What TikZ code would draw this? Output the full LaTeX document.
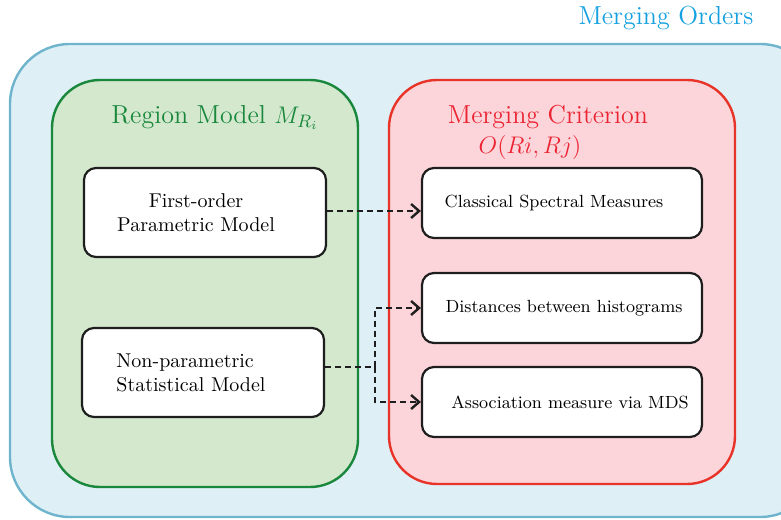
\documentclass[tikz,border=0pt]{standalone}
\usepackage{tikz}
\usetikzlibrary{arrows.meta,positioning}
\definecolor{ordersfill}{RGB}{222,239,246}
\definecolor{ordersline}{RGB}{110,180,205}
\definecolor{orderstext}{RGB}{20,160,225}
\definecolor{modelfill}{RGB}{211,232,205}
\definecolor{modelline}{RGB}{25,135,60}
\definecolor{critfill}{RGB}{252,213,218}
\definecolor{critline}{RGB}{232,52,40}
\definecolor{crittext}{RGB}{235,35,50}
\definecolor{boxline}{RGB}{30,30,30}
\tikzset{
  groupbox/.style={line width=1.2pt, rounded corners=24pt},
  titletext/.style={font=\fontsize{13}{15}\selectfont},
  modelbox/.style={draw=boxline, fill=white, line width=1.1pt, rounded corners=6pt,
    minimum width=121pt, minimum height=44.5pt},
  modeltext/.style={align=left},
  critbox/.style={draw=boxline, fill=white, line width=1.1pt, rounded corners=6pt,
    minimum width=140pt, minimum height=35pt},
  crittext/.style={font=\fontsize{8.8}{10}\selectfont},
  dashline/.style={draw=boxline, line width=1.2pt, dash pattern=on 3pt off 2pt},
  link/.style={dashline, -{Straight Barb[length=4pt,width=7pt]}}
}
\begin{document}
\begin{tikzpicture}[x=0.5pt,y=-0.5pt]
  \useasboundingbox (0,0) rectangle (781,519);
  \clip (0,0) rectangle (781,519);
  % outer group
  \draw[groupbox, rounded corners=30pt, draw=ordersline, fill=ordersfill] (10,44) rectangle (820,517);
  \node[titletext, text=orderstext] (orders) at (666,18) {Merging Orders};
  % left and right groups
  \draw[groupbox, draw=modelline, fill=modelfill] (52,80) rectangle (358,487);
  \draw[groupbox, draw=critline, fill=critfill] (389,80) rectangle (735,484);
  \node[titletext, text=modelline] (modeltitle) at (215,117) {Region Model $M_{R_i}$};
  \node[titletext, text=crittext] (crittitle) at (548,117) {Merging Criterion};
  \node[titletext, text=crittext] (critsym) at (530,148) {$O(Ri,Rj)$};
  % models
  \node[modelbox] (param) at (205,212.5) {};
  \node[modeltext, align=center] at ([xshift=-4.5pt]param.center) {First-order\\Parametric Model};
  \node[modelbox] (nonparam) at (203,372.5) {};
  \node[modeltext] at ([xshift=-6pt]nonparam.center) {Non-parametric\\Statistical Model};
  % criteria
  \node[critbox] (spectral) at (562,203) {};
  \node[crittext] at ([xshift=-4pt]spectral.center) {Classical Spectral Measures};
  \node[critbox] (histo) at (562,308) {};
  \node[crittext] at ([xshift=1pt]histo.center) {Distances between histograms};
  \node[critbox] (mds) at (562,402) {};
  \node[crittext] at ([xshift=4pt]mds.center) {Association measure via MDS};
  % links
  \coordinate (top) at (param.east |- 0,211);
  \draw[link] (top) -- (top -| spectral.west);
  \coordinate (split) at (375,367);
  \draw[dashline] (nonparam.east |- split) -- (split);
  \draw[link] (split) |- (histo.west);
  \draw[link] (split) |- (mds.west);
\end{tikzpicture}
\end{document}
